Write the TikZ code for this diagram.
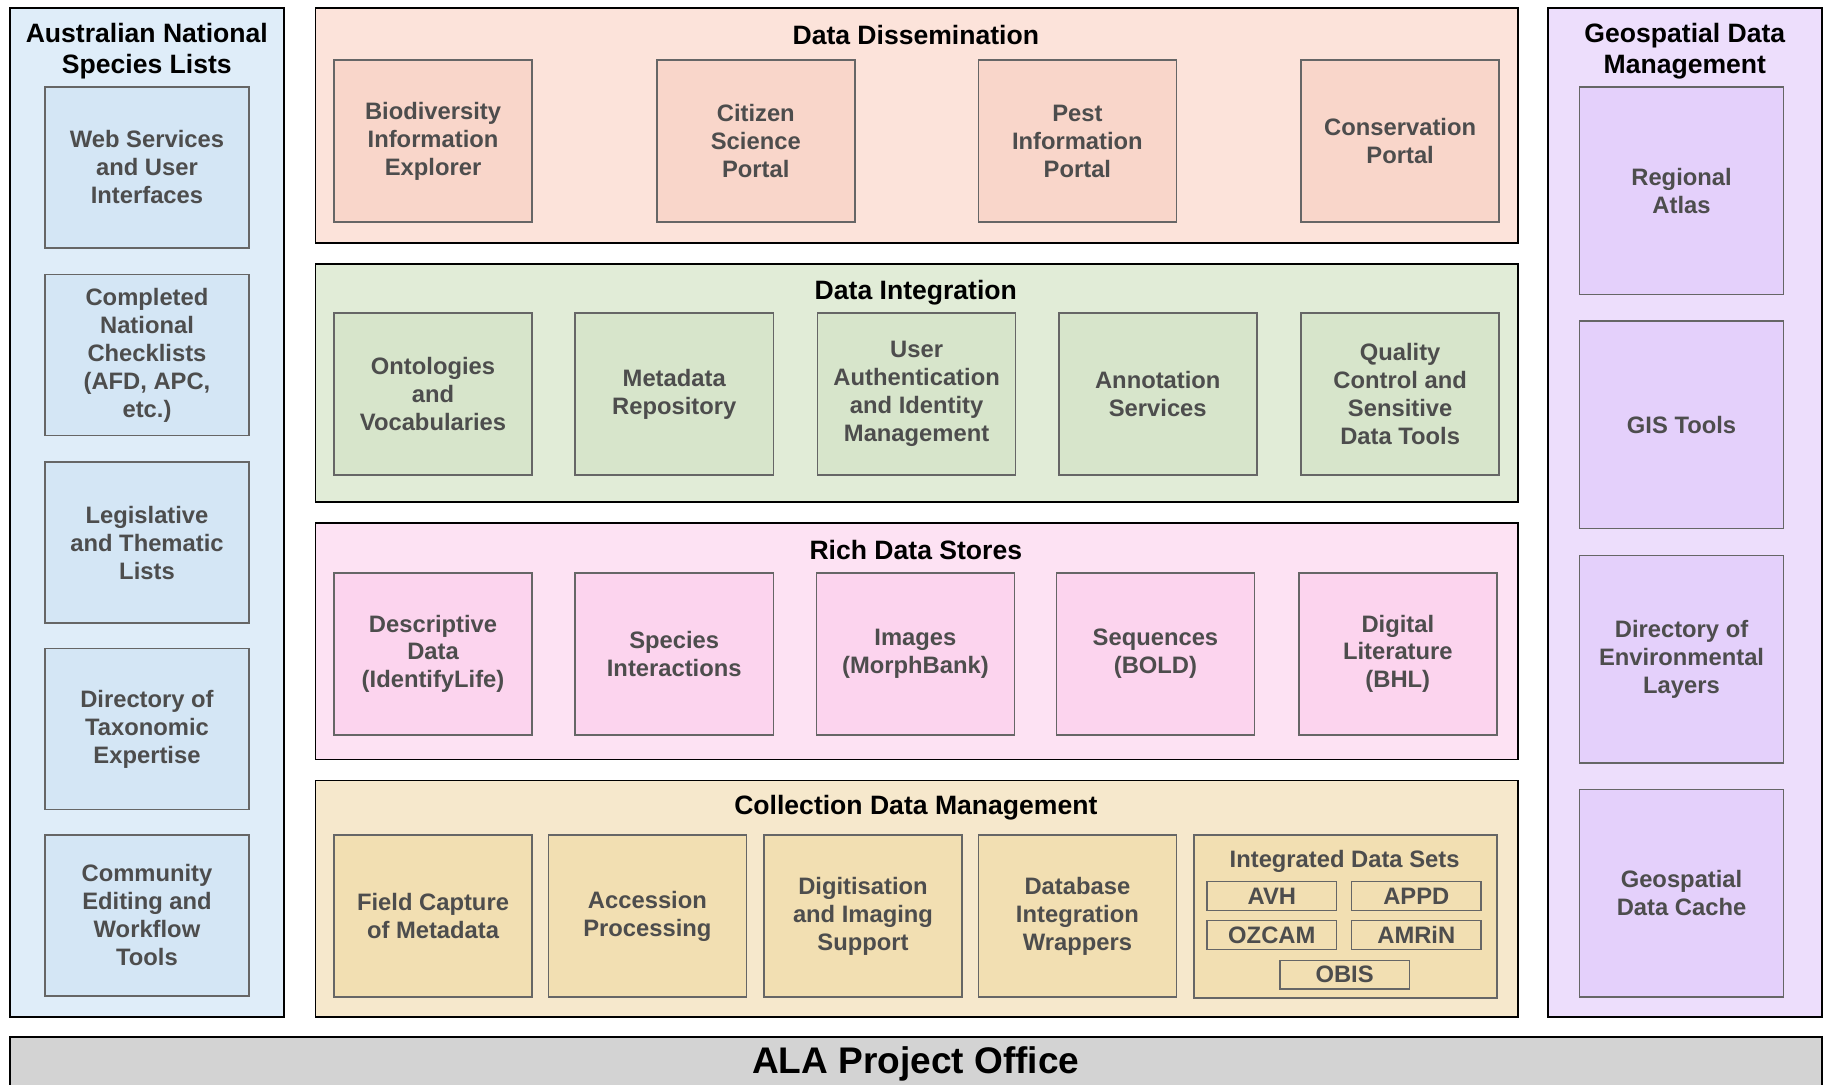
\documentclass[tikz,border=0pt]{standalone}
\usepackage{fontspec}
\setmainfont{Liberation Sans}
\usetikzlibrary{positioning}

\definecolor{listpanel}{HTML}{DFEDF9}
\definecolor{listcell}{HTML}{D4E6F5}
\definecolor{dispanel}{HTML}{FCE3DA}
\definecolor{discell}{HTML}{F9D6CA}
\definecolor{intpanel}{HTML}{E1ECD7}
\definecolor{intcell}{HTML}{D7E5CB}
\definecolor{richpanel}{HTML}{FDE2F3}
\definecolor{richcell}{HTML}{FCD4EE}
\definecolor{colpanel}{HTML}{F6E8CC}
\definecolor{colcell}{HTML}{F2DFB2}
\definecolor{geopanel}{HTML}{EDDEFC}
\definecolor{geocell}{HTML}{E4D0FB}
\definecolor{officegray}{HTML}{D3D3D3}
\definecolor{celltext}{HTML}{4D4D4D}

\begin{document}
\begin{tikzpicture}[
    x=0.5pt, y=-0.5pt,
    % Define styles for consistent formatting
    panel/.style={draw=black, line width=0.8pt, fill=#1, anchor=north west, inner sep=0pt},
    box/.style={draw=black!60, line width=0.65pt, fill=#1, anchor=north west, inner sep=0pt,
        align=center, text=celltext, font=\bfseries\fontsize{10.2}{12}\selectfont},
    sidebox/.style={box=#1, minimum width=87.5pt, minimum height=69pt},
    geobox/.style={box=#1, minimum width=87.5pt, minimum height=89pt},
    midbox/.style={box=#1, minimum width=85pt, minimum height=69.5pt},
    tagbox/.style={box=#1, anchor=center, minimum width=55.5pt, minimum height=12.3pt},
    paneltitle/.style={font=\bfseries\fontsize{11.4}{13.5}\selectfont, align=center, text=black},
    subtitle/.style={font=\bfseries\fontsize{10.2}{12}\selectfont, text=celltext}
]

% Fix the page to the reference proportions
\useasboundingbox (0,0) rectangle (1568,931);
\clip (0,0) rectangle (1568,931);
\fill[white] (0,0) rectangle (1568,931);

% Left panel: species lists
\node [panel=listpanel, minimum width=117.5pt, minimum height=433pt] (lists) at (8,6) {};
\node [paneltitle] (lists-title) at (126,44) {Australian National\\Species Lists};
\node [sidebox=listcell] (webui) at (38,74) {Web Services\\and User\\Interfaces};
\node [sidebox=listcell] (checklists) at (38,235) {Completed\\National\\Checklists\\(AFD, APC,\\etc.)};
\node [sidebox=listcell] (legislative) at (38,396) {Legislative\\and Thematic\\Lists};
\node [sidebox=listcell] (expertise) at (38,556) {Directory of\\Taxonomic\\Expertise};
\node [sidebox=listcell] (community) at (38,716) {Community\\Editing and\\Workflow\\Tools};

% Right panel: geospatial data
\node [panel=geopanel, minimum width=117.5pt, minimum height=433pt] (geo) at (1328,6) {};
\node [paneltitle] (geo-title) at (1446,44) {Geospatial Data\\Management};
\node [geobox=geocell] (atlas) at (1355,74) {Regional\\Atlas};
\node [geobox=geocell] (gis) at (1355,275) {GIS Tools};
\node [geobox=geocell] (layers) at (1355,476) {Directory of\\Environmental\\Layers};
\node [geobox=geocell] (cache) at (1355,677) {Geospatial\\Data Cache};

% Data dissemination
\node [panel=dispanel, minimum width=516pt, minimum height=101pt] (dis) at (270,6) {};
\node [paneltitle] (dis-title) at (786,30) {Data Dissemination};
\node [midbox=discell] (bie) at (286,51) {Biodiversity\\Information\\Explorer};
\node [midbox=discell] (citizen) at (563,51) {Citizen\\Science\\Portal};
\node [midbox=discell] (pest) at (839,51) {Pest\\Information\\Portal};
\node [midbox=discell] (conservation) at (1116,51) {Conservation\\Portal};

% Data integration
\node [panel=intpanel, minimum width=516pt, minimum height=102pt] (int) at (270,226) {};
\node [paneltitle] (int-title) at (786,251) {Data Integration};
\node [midbox=intcell] (ontologies) at (286,268) {Ontologies\\and\\Vocabularies};
\node [midbox=intcell] (metadata) at (493,268) {Metadata\\Repository};
\node [midbox=intcell] (auth) at (701,268) {User\\Authentication\\and Identity\\Management};
\node [midbox=intcell] (annotation) at (908,268) {Annotation\\Services};
\node [midbox=intcell] (quality) at (1116,268) {Quality\\Control and\\Sensitive\\Data Tools};

% Rich data stores
\node [panel=richpanel, minimum width=516pt, minimum height=101.5pt] (rich) at (270,448) {};
\node [paneltitle] (rich-title) at (786,472) {Rich Data Stores};
\node [midbox=richcell] (descriptive) at (286,491) {Descriptive\\Data\\(IdentifyLife)};
\node [midbox=richcell] (interactions) at (493,491) {Species\\Interactions};
\node [midbox=richcell] (images) at (700,491) {Images\\(MorphBank)};
\node [midbox=richcell] (sequences) at (906,491) {Sequences\\(BOLD)};
\node [midbox=richcell] (literature) at (1114,491) {Digital\\Literature\\(BHL)};

% Collection data management
\node [panel=colpanel, minimum width=516pt, minimum height=101.5pt] (col) at (270,669) {};
\node [paneltitle] (col-title) at (786,693) {Collection Data Management};
\node [midbox=colcell] (capture) at (286,716) {Field Capture\\of Metadata};
\node [midbox=colcell] (accession) at (470,716) {Accession\\Processing};
\node [midbox=colcell] (digitise) at (655,716) {Digitisation\\and Imaging\\Support};
\node [midbox=colcell] (wrappers) at (839,716) {Database\\Integration\\Wrappers};

% Integrated data sets
\node [box=colcell, minimum width=130pt, minimum height=70pt] (datasets) at (1024,716) {};
\node [subtitle] (datasets-title) at (1154,739) {Integrated Data Sets};
\foreach \x/\y/\name in {1091.5/769/AVH, 1215.5/769/APPD, 1091.5/802.5/OZCAM, 1215.5/802.5/AMRiN, 1154/836.5/OBIS}
    \node [tagbox=colcell] (set-\name) at (\x,\y) {\name};

% Project office bar
\node [panel=officegray, minimum width=777.5pt, minimum height=30pt] (office) at (8,889) {};
\node [font=\bfseries\fontsize{15.9}{18}\selectfont] (office-title) at (786,913) {ALA Project Office};

\end{tikzpicture}
\end{document}
